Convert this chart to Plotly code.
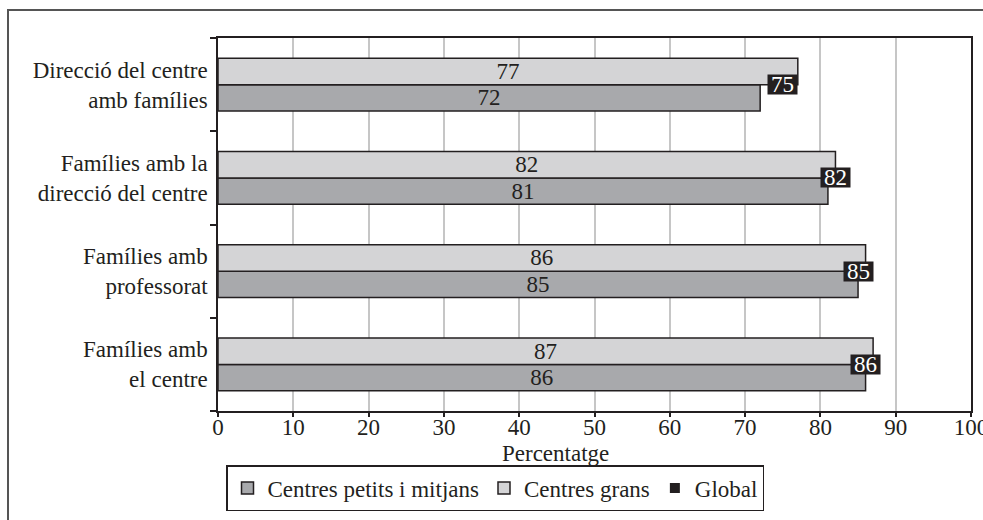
import plotly.graph_objects as go

# Categories listed bottom-to-top (first category is drawn lowest)
categories = [
    "Famílies amb<br>el centre",
    "Famílies amb<br>professorat",
    "Famílies amb la<br>direcció del centre",
    "Direcció del centre<br>amb famílies",
]
petits = [86, 85, 81, 72]
grans = [87, 86, 82, 77]
global_vals = [86, 85, 82, 75]
x_ticks = [0, 10, 20, 30, 40, 50, 60, 70, 80, 90, 100]

FONT = "Liberation Serif"
FS = 23
INK = "#231f20"
W, H = 983, 520
L, R, T, B = 218, 12, 38, 109
PW, PH = W - L - R, H - T - B


def px_x(p):
    return (p - L) / PW


def px_y(p):
    return (H - B - p) / PH


fig = go.Figure()

fig.add_trace(go.Bar(
    name="Centres petits i mitjans", y=categories, x=petits, orientation="h",
    marker=dict(color="#a8a9ac", line=dict(color=INK, width=1.5)),
    text=[str(v) for v in petits], textposition="inside", insidetextanchor="middle",
    textangle=0, constraintext="none",
    textfont=dict(family=FONT, size=FS, color=INK),
))
fig.add_trace(go.Bar(
    name="Centres grans", y=categories, x=grans, orientation="h",
    marker=dict(color="#d4d4d6", line=dict(color=INK, width=1.5)),
    text=[str(v) for v in grans], textposition="inside", insidetextanchor="middle",
    textangle=0, constraintext="none",
    textfont=dict(family=FONT, size=FS, color=INK),
))
fig.add_trace(go.Scatter(
    name="Global", y=categories, x=global_vals, mode="markers",
    marker=dict(symbol="square", size=10, color=INK),
))

# Global values shown as black label boxes
for c, v in zip(categories, global_vals):
    fig.add_annotation(
        x=v, y=c, xref="x", yref="y", text=str(v), showarrow=False,
        bgcolor=INK, borderpad=0, width=29, height=19,
        font=dict(family=FONT, size=FS, color="white"),
        xanchor="center", yanchor="middle",
    )

fig.add_annotation(
    x=px_x(555), y=px_y(453), xref="paper", yref="paper", text="Percentatge",
    showarrow=False, xanchor="center", yanchor="middle",
    font=dict(family=FONT, size=FS, color=INK),
)

# Outer frame around the figure
fig.add_shape(
    type="rect", xref="paper", yref="paper",
    x0=px_x(8), x1=px_x(1000), y0=px_y(540), y1=px_y(10),
    line=dict(color="#555555", width=2), fillcolor="rgba(0,0,0,0)", layer="below",
)

fig.update_layout(
    width=W, height=H,
    margin=dict(l=L, r=R, t=T, b=B, autoexpand=False),
    paper_bgcolor="white", plot_bgcolor="white",
    barmode="group", bargap=0.435, bargroupgap=0,
    font=dict(family=FONT, size=FS, color=INK),
    showlegend=True,
    legend=dict(
        orientation="h", x=px_x(495), y=px_y(488), xanchor="center", yanchor="middle",
        bordercolor=INK, borderwidth=1.5, bgcolor="white",
        font=dict(family=FONT, size=FS, color=INK),
        itemwidth=30, tracegroupgap=0,
    ),
    xaxis=dict(
        range=[0, 100], tickvals=x_ticks, ticktext=[str(t) for t in x_ticks],
        showgrid=True, gridcolor="#c6c6c6", gridwidth=1.5,
        showline=True, linecolor=INK, linewidth=1.5, mirror=True,
        ticks="outside", ticklen=4, tickcolor=INK, tickwidth=1.5,
        tickfont=dict(family=FONT, size=FS, color=INK),
        ticklabeloverflow="allow", ticklabelstandoff=-9, automargin=False,
        zeroline=False, fixedrange=True,
    ),
    yaxis=dict(
        categoryorder="array", categoryarray=categories,
        showline=True, linecolor=INK, linewidth=1.5, mirror=True,
        ticks="outside", ticklen=6, tickcolor=INK, tickwidth=1.5,
        tickson="boundaries", showgrid=False, ticklabelstandoff=4,
        tickfont=dict(family=FONT, size=FS, color=INK),
        automargin=False, fixedrange=True,
    ),
)

fig.write_html("out.html")
